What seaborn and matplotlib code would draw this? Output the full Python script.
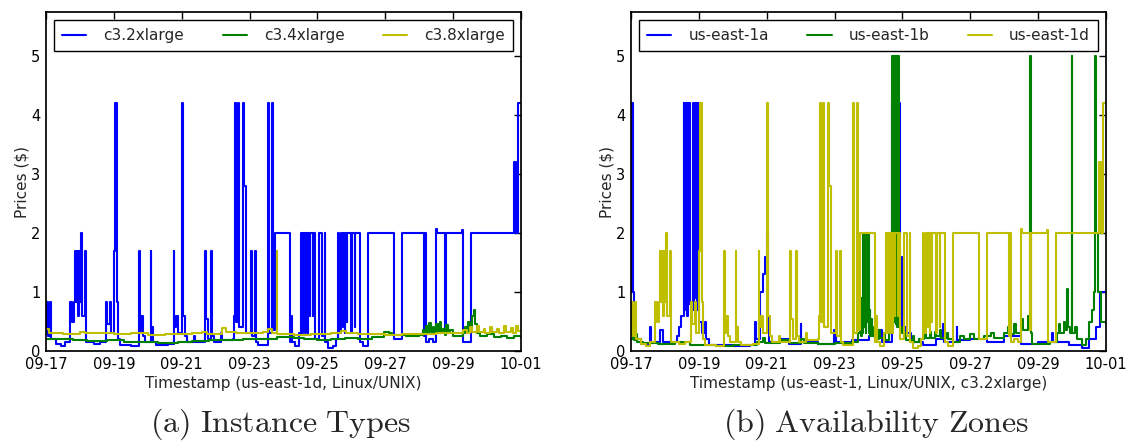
import pandas as pd
import matplotlib.pyplot as plt
import matplotlib.dates as mdates
import seaborn as sns

sns.set_style('white')
plt.rcParams['font.family'] = ['DejaVu Sans']
plt.rcParams['mathtext.fontset'] = 'cm'

start = pd.Timestamp('2014-09-17')

# spot price history, (days since 09-17, price $)
# c3.2xlarge in us-east-1d (also the us-east-1d line of panel b)
c32_points = [
    (0.00, 0.30), (0.02, 0.83), (0.05, 0.25), (0.12, 0.83), (0.16, 0.20), (0.30, 0.12),
    (0.45, 0.08), (0.55, 0.15), (0.71, 0.83), (0.78, 0.50), (0.82, 0.83), (0.86, 1.70),
    (0.88, 0.83), (0.92, 1.70), (0.94, 0.60), (0.97, 1.70), (0.99, 0.83), (1.04, 2.00),
    (1.06, 0.60), (1.16, 1.70), (1.18, 0.15), (1.40, 0.12), (1.60, 0.15), (1.78, 0.83),
    (1.81, 0.45), (1.88, 0.83), (1.91, 0.30), (2.00, 1.70), (2.04, 4.20), (2.08, 0.83),
    (2.12, 0.20), (2.18, 0.10), (2.50, 0.08), (2.74, 1.70), (2.76, 0.30), (2.81, 0.60),
    (2.86, 0.25), (2.92, 0.15), (3.08, 1.70), (3.10, 0.40), (3.15, 0.15), (3.25, 0.10),
    (3.60, 0.12), (3.76, 1.70), (3.78, 0.40), (3.83, 0.60), (3.88, 0.30), (4.02, 4.20),
    (4.05, 0.60), (4.09, 0.25), (4.15, 0.15), (4.35, 0.25), (4.40, 0.15), (4.69, 1.70),
    (4.71, 0.55), (4.76, 0.20), (4.86, 1.70), (4.88, 0.25), (4.95, 0.15), (5.15, 0.30),
    (5.20, 0.18), (5.50, 0.20), (5.54, 0.60), (5.58, 4.20), (5.61, 0.50), (5.66, 4.20),
    (5.69, 0.40), (5.80, 4.20), (5.84, 2.80), (5.90, 0.30), (6.04, 1.70), (6.06, 0.25),
    (6.16, 1.70), (6.18, 0.15), (6.25, 0.10), (6.53, 4.20), (6.56, 0.30), (6.65, 4.20),
    (6.69, 0.35), (6.74, 2.00), (7.18, 0.15), (7.22, 0.60), (7.24, 0.15), (7.35, 0.08),
    (7.47, 0.30), (7.52, 2.00), (7.54, 0.30), (7.57, 2.00), (7.59, 0.40), (7.61, 2.00),
    (7.63, 0.30), (7.65, 2.00), (7.67, 0.50), (7.69, 2.00), (7.71, 0.30), (7.73, 2.00),
    (7.78, 0.60), (7.79, 2.00), (7.86, 0.60), (7.88, 2.00), (7.94, 0.20), (8.05, 2.00),
    (8.14, 0.25), (8.21, 2.00), (8.23, 0.15), (8.30, 0.05), (8.45, 0.08), (8.55, 0.20),
    (8.61, 2.00), (8.63, 0.30), (8.70, 2.00), (8.76, 0.40), (8.77, 2.00), (8.80, 0.30),
    (8.82, 2.00), (8.86, 0.50), (8.88, 2.00), (8.98, 0.30), (9.03, 2.00), (9.10, 0.40),
    (9.12, 2.00), (9.24, 0.15), (9.35, 0.08), (9.50, 2.00), (10.27, 0.20), (10.48, 2.00),
    (11.15, 0.25), (11.17, 2.00), (11.19, 0.15), (11.30, 0.20), (11.40, 0.15), (11.48, 2.07),
    (11.51, 2.00), (11.76, 0.35), (11.79, 2.00), (12.25, 2.05), (12.28, 0.15), (12.53, 2.00),
    (13.80, 3.20), (13.84, 2.00), (13.91, 4.20), (14.00, 4.20),
]

# c3.4xlarge in us-east-1d
c34_points = [
    (0.0, 0.21), (0.3, 0.20), (0.8, 0.19), (1.2, 0.17), (1.8, 0.18), (2.3, 0.16),
    (2.8, 0.15), (3.3, 0.14), (3.9, 0.15), (4.3, 0.17), (4.8, 0.19), (5.3, 0.18),
    (5.8, 0.20), (6.3, 0.21), (6.8, 0.23), (7.3, 0.22), (7.6, 0.20), (8.0, 0.19),
    (8.4, 0.20), (8.8, 0.22), (9.2, 0.21), (9.6, 0.23), (9.95, 0.33), (10.1, 0.30),
    (10.2, 0.27), (10.6, 0.26), (11.0, 0.27), (11.1, 0.35), (11.15, 0.28), (11.2, 0.42),
    (11.25, 0.30), (11.3, 0.48), (11.35, 0.33), (11.4, 0.40), (11.45, 0.28), (11.5, 0.45),
    (11.55, 0.30), (11.6, 0.50), (11.65, 0.32), (11.7, 0.38), (11.75, 0.27), (11.8, 0.44),
    (11.85, 0.30), (11.9, 0.35), (12.0, 0.26), (12.1, 0.25), (12.3, 0.30), (12.35, 0.40),
    (12.4, 0.32), (12.45, 0.50), (12.5, 0.38), (12.55, 0.60), (12.6, 0.70), (12.65, 0.45),
    (12.7, 0.30), (12.8, 0.26), (13.0, 0.28), (13.2, 0.24), (13.4, 0.26), (13.6, 0.22),
    (13.8, 0.25), (14.0, 0.23),
]

# c3.8xlarge in us-east-1d
c38_points = [
    (0.0, 0.38), (0.08, 0.30), (0.5, 0.29), (1.0, 0.33), (1.15, 0.30), (1.6, 0.31),
    (2.0, 0.28), (2.5, 0.30), (3.0, 0.27), (3.5, 0.28), (4.0, 0.29), (4.3, 0.31),
    (4.6, 0.33), (4.75, 0.29), (5.2, 0.39), (5.3, 0.32), (5.6, 0.30), (6.0, 0.31),
    (6.4, 0.32), (6.55, 0.38), (6.65, 0.31), (6.8, 1.70), (6.82, 0.28), (7.3, 0.27),
    (7.8, 0.28), (8.4, 0.30), (8.7, 0.34), (8.85, 0.30), (9.2, 0.29), (9.6, 0.28),
    (10.0, 0.27), (10.5, 0.28), (11.0, 0.29), (11.5, 0.30), (12.0, 0.31), (12.3, 0.35),
    (12.4, 0.30), (12.5, 0.40), (12.55, 0.32), (12.7, 0.42), (12.75, 0.33), (12.9, 0.38),
    (12.95, 0.30), (13.1, 0.41), (13.15, 0.32), (13.3, 0.37), (13.35, 0.30), (13.5, 0.43),
    (13.55, 0.33), (13.7, 0.39), (13.75, 0.31), (13.85, 0.42), (13.9, 0.34), (14.0, 0.33),
]

# c3.2xlarge in us-east-1a
zone_a_points = [
    (0.00, 1.00), (0.02, 4.20), (0.05, 1.00), (0.08, 0.25), (0.15, 0.20), (0.30, 0.12),
    (0.55, 0.40), (0.60, 0.15), (0.85, 0.35), (0.95, 0.15), (1.35, 0.25), (1.42, 0.40),
    (1.48, 0.60), (1.55, 4.20), (1.57, 0.70), (1.58, 4.20), (1.62, 0.80), (1.63, 4.20),
    (1.66, 0.60), (1.67, 4.20), (1.70, 0.80), (1.71, 4.20), (1.75, 0.80), (1.82, 4.20),
    (1.85, 0.70), (1.86, 4.20), (1.90, 0.90), (1.91, 4.20), (1.95, 0.70), (1.96, 4.20),
    (2.00, 0.50), (2.08, 0.30), (2.18, 0.50), (2.20, 0.20), (2.30, 0.10), (3.00, 0.08),
    (3.50, 0.10), (3.65, 0.50), (3.68, 0.20), (3.80, 1.00), (3.90, 1.30), (3.96, 1.60),
    (4.01, 2.00), (4.03, 0.35), (4.08, 0.15), (4.40, 0.20), (4.65, 0.12), (5.00, 0.45),
    (5.02, 0.15), (5.50, 0.12), (5.98, 0.35), (6.05, 0.15), (6.50, 0.18), (7.00, 0.25),
    (7.30, 0.35), (7.40, 0.15), (7.69, 4.20), (7.94, 1.60), (8.00, 0.40), (8.10, 0.30),
    (8.25, 0.15), (8.60, 0.10), (9.00, 0.20), (9.20, 0.45), (9.22, 0.15), (9.60, 0.40),
    (9.62, 0.18), (10.00, 0.20), (10.50, 0.15), (11.00, 0.25), (11.50, 0.12), (12.00, 0.15),
    (12.40, 0.30), (12.45, 0.15), (12.90, 0.10), (13.30, 0.05), (13.50, 0.20), (13.70, 0.40),
    (13.82, 1.00), (14.00, 1.00),
]

# c3.2xlarge in us-east-1b
zone_b_points = [
    (0.00, 0.20), (0.05, 0.30), (0.08, 0.18), (0.15, 0.28), (0.18, 0.15), (0.35, 0.14),
    (0.80, 0.12), (1.30, 0.15), (1.75, 0.10), (2.50, 0.09), (3.00, 0.10), (3.70, 0.15),
    (3.90, 0.22), (3.95, 0.14), (4.40, 0.18), (4.70, 0.14), (5.00, 0.20), (5.10, 0.13),
    (5.50, 0.12), (6.00, 0.13), (6.50, 0.15), (6.70, 0.30), (6.75, 0.45), (6.78, 0.25),
    (6.80, 0.90), (6.82, 0.30), (6.85, 2.00), (6.87, 0.40), (6.90, 1.20), (6.92, 0.30),
    (6.94, 2.00), (6.96, 0.50), (6.98, 2.00), (7.00, 0.30), (7.03, 0.70), (7.05, 0.25),
    (7.08, 0.55), (7.10, 0.25), (7.15, 0.40), (7.20, 0.20), (7.30, 0.35), (7.35, 0.22),
    (7.45, 0.30), (7.50, 0.18), (7.60, 0.30), (7.66, 0.50), (7.70, 5.00), (7.72, 0.40),
    (7.73, 5.00), (7.76, 0.50), (7.77, 5.00), (7.80, 0.45), (7.81, 5.00), (7.85, 0.40),
    (7.86, 5.00), (7.91, 0.40), (7.98, 0.30), (8.10, 0.18), (8.30, 0.25), (8.35, 0.15),
    (8.50, 0.20), (8.65, 0.30), (8.70, 0.22), (8.80, 0.33), (8.85, 0.22), (8.95, 0.32),
    (9.00, 0.25), (9.10, 0.35), (9.15, 0.22), (9.30, 0.30), (9.35, 0.20), (9.50, 0.15),
    (9.70, 0.25), (9.80, 0.20), (10.00, 0.28), (10.10, 0.20), (10.40, 0.25), (10.60, 0.30),
    (10.70, 0.22), (11.00, 0.30), (11.10, 0.40), (11.15, 0.28), (11.30, 0.45), (11.35, 0.30),
    (11.50, 0.55), (11.55, 0.35), (11.70, 0.60), (11.77, 5.00), (11.79, 0.30), (11.83, 0.12),
    (12.35, 0.15), (12.55, 0.30), (12.60, 0.45), (12.65, 0.30), (12.75, 0.50), (12.80, 0.35),
    (12.85, 1.05), (12.87, 0.40), (12.95, 0.30), (12.99, 5.00), (13.01, 0.30), (13.10, 0.40),
    (13.15, 0.20), (13.30, 0.10), (13.40, 0.20), (13.50, 0.50), (13.60, 0.70), (13.65, 1.00),
    (13.67, 5.00), (13.70, 2.00), (13.75, 1.00), (13.85, 0.50), (14.00, 0.45),
]

panel_a = [('c3.2xlarge', c32_points, '#0000ff'),
           ('c3.4xlarge', c34_points, '#008000'),
           ('c3.8xlarge', c38_points, '#bfbf00')]
panel_b = [('us-east-1a', zone_a_points, '#0000ff'),
           ('us-east-1b', zone_b_points, '#008000'),
           ('us-east-1d', c32_points, '#bfbf00')]


def to_frame(points):
    df = pd.DataFrame(points, columns=['day', 'price'])
    df['time'] = start + pd.to_timedelta(df['day'], unit='D')
    return df


def draw_panel(ax, series, xlabel, caption_x, caption):
    for label, points, color in series:
        sns.lineplot(data=to_frame(points), x='time', y='price', ax=ax, color=color,
                     label=label, estimator=None, sort=False, drawstyle='steps-post',
                     linewidth=1.5)
    ax.set_xlim(start, start + pd.Timedelta(days=14))
    ax.set_ylim(0, 5.75)
    ax.set_xticks(pd.date_range(start, periods=8, freq='2D'))
    ax.xaxis.set_major_formatter(mdates.DateFormatter('%m-%d'))
    ax.set_yticks(range(6))
    ax.tick_params(direction='in', length=5, width=1, top=True, right=True,
                   labelsize=10.5, pad=4, colors='black')
    for sp in ax.spines.values():
        sp.set_color('black')
        sp.set_linewidth(1.25)
    ax.set_xlabel(xlabel, fontsize=11)
    ax.set_ylabel('Prices (\\$)', fontsize=11)
    ax.xaxis.set_label_coords(0.5, -0.075)
    ax.yaxis.set_label_coords(-0.034, 0.5)
    ax.legend(loc='upper left', bbox_to_anchor=(0, 0, 1, 1), mode='expand', ncol=3,
              fontsize=11, fancybox=False, edgecolor='black', framealpha=1,
              borderaxespad=0.55, handlelength=1.6, handletextpad=1.1, borderpad=0.5)
    ax.get_legend().get_frame().set_linewidth(1)
    fig.text(caption_x, 0.049, caption, ha='center', va='center', fontsize=23)


fig = plt.figure(figsize=(11.31, 4.46), dpi=100)
ax1 = fig.add_axes([46 / 1131, 95 / 446, 475 / 1131, 339 / 446])
ax2 = fig.add_axes([631 / 1131, 95 / 446, 475 / 1131, 339 / 446])

draw_panel(ax1, panel_a, 'Timestamp (us-east-1d, Linux/UNIX)', 0.2476,
           r'$\mathrm{(a)\ Instance\ Types}$')
draw_panel(ax2, panel_b, 'Timestamp (us-east-1, Linux/UNIX, c3.2xlarge)', 0.7745,
           r'$\mathrm{(b)\ Availability\ Zones}$')

plt.savefig('out.png', dpi=100)
plt.close()
